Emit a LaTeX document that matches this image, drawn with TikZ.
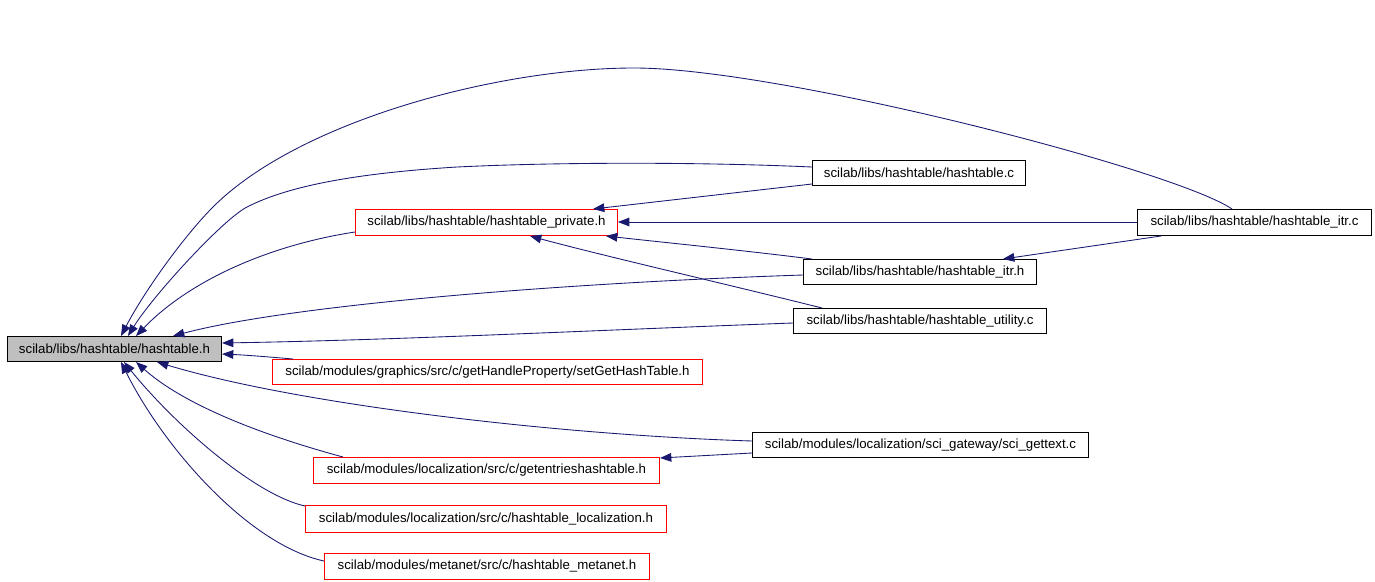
\documentclass[tikz,border=0pt]{standalone}
\usepackage{fontspec}
\setmainfont{Liberation Sans}
\usetikzlibrary{arrows.meta,calc}
\definecolor{edgeblue}{HTML}{191970}
\definecolor{boxred}{HTML}{FF0000}
\definecolor{maingray}{HTML}{BFBFBF}
\begin{document}
\begin{tikzpicture}[x=0.75pt,y=-0.75pt,
  nbox/.style={draw=black, line width=0.75pt, anchor=north west, inner sep=0pt,
    font=\fontsize{9.95}{11}\selectfont, text=black},
  rbox/.style={nbox, draw=boxred},
  dep/.style={draw=edgeblue, line width=0.65pt, -{Triangle[length=8.5pt,width=6.5pt]}}]
\useasboundingbox (0,0) rectangle (1375,582);

% nodes
\node[nbox, fill=maingray, minimum width=214*0.75pt, minimum height=25*0.75pt] (main) at (7,336) {scilab/libs/hashtable/hashtable.h};
\node[rbox, minimum width=262*0.75pt, minimum height=26*0.75pt] (priv) at (355,209) {scilab/libs/hashtable/hashtable\_private.h};
\node[nbox, minimum width=213*0.75pt, minimum height=25*0.75pt] (hc) at (812,160) {scilab/libs/hashtable/hashtable.c};
\node[nbox, minimum width=234*0.75pt, minimum height=26*0.75pt] (itrc) at (1137,209) {scilab/libs/hashtable/hashtable\_itr.c};
\node[nbox, minimum width=233*0.75pt, minimum height=25*0.75pt] (itrh) at (803,259) {scilab/libs/hashtable/hashtable\_itr.h};
\node[nbox, minimum width=253*0.75pt, minimum height=25*0.75pt] (util) at (793,308) {scilab/libs/hashtable/hashtable\_utility.c};
\node[rbox, minimum width=430*0.75pt, minimum height=25*0.75pt] (setget) at (272,359) {scilab/modules/graphics/src/c/getHandleProperty/setGetHashTable.h};
\node[nbox, minimum width=336*0.75pt, minimum height=25*0.75pt] (sci) at (752,432) {scilab/modules/localization/sci\_gateway/sci\_gettext.c};
\node[rbox, minimum width=346*0.75pt, minimum height=26*0.75pt] (getent) at (313,457) {scilab/modules/localization/src/c/getentrieshashtable.h};
\node[rbox, minimum width=361*0.75pt, minimum height=27*0.75pt] (loc) at (305,505) {scilab/modules/localization/src/c/hashtable\_localization.h};
\node[rbox, minimum width=325*0.75pt, minimum height=26*0.75pt] (metanet) at (324,553) {scilab/modules/metanet/src/c/hashtable\_metanet.h};

% edges to hashtable.h
\draw[dep] ($(itrc.north west)+(95,0)$) .. controls (1175,170) and (780,68) .. (634,68)
  .. controls (500,68) and (300,120) .. (213,207)
  .. controls (185,235) and (145,290) .. ($(main.north west)+(114,0)$);
\draw[dep] ($(hc.north west)+(0,7)$) .. controls (700,162) and (560,162) .. (457,167)
  .. controls (360,173) and (290,185) .. (247,207)
  .. controls (222,220) and (152,297) .. ($(main.north west)+(121,0)$);
\draw[dep] ($(priv.north west)+(0,23)$) .. controls (270,245) and (190,280) .. ($(main.north west)+(129,0)$);
\draw[dep] ($(itrh.north west)+(0,16)$) .. controls (560,283) and (290,305) .. ($(main.north west)+(166,0)$);
\draw[dep] ($(util.north west)+(0,15)$) .. controls (600,330) and (400,340) .. ($(main.north east)+(0,7)$);
\draw[dep] ($(setget.north west)+(21,0)$) .. controls (270,357) and (245,355) .. ($(main.north east)+(0,18)$);
\draw[dep] ($(sci.north west)+(0,9)$) .. controls (560,435) and (300,405) .. ($(main.south west)+(150,0)$);
\draw[dep] ($(getent.north west)+(30,0)$) .. controls (280,440) and (190,410) .. ($(main.south west)+(129,0)$);
\draw[dep] ($(loc.north west)+(0,1)$) .. controls (255,495) and (175,425) .. ($(main.south west)+(117,0)$);
\draw[dep] ($(metanet.north west)+(0,8)$) .. controls (250,545) and (165,450) .. ($(main.south west)+(114,0)$);

% edges to hashtable_private.h
\draw[dep] ($(hc.north west)+(0,24)$) -- ($(priv.north west)+(238,0)$);
\draw[dep] ($(itrc.north west)+(0,13)$) -- ($(priv.north east)+(0,13)$);
\draw[dep] ($(itrh.north west)+(9,0)$) .. controls (740,250) and (660,242) .. ($(priv.south east)+(-12,0)$);
\draw[dep] ($(util.north west)+(29,0)$) .. controls (730,285) and (600,255) .. ($(priv.south west)+(175,0)$);

% other edges
\draw[dep] ($(itrc.south west)+(24,0)$) -- ($(itrh.north west)+(200,0)$);
\draw[dep] ($(sci.north west)+(0,21)$) -- ($(getent.north east)+(0,1)$);
\end{tikzpicture}
\end{document}
